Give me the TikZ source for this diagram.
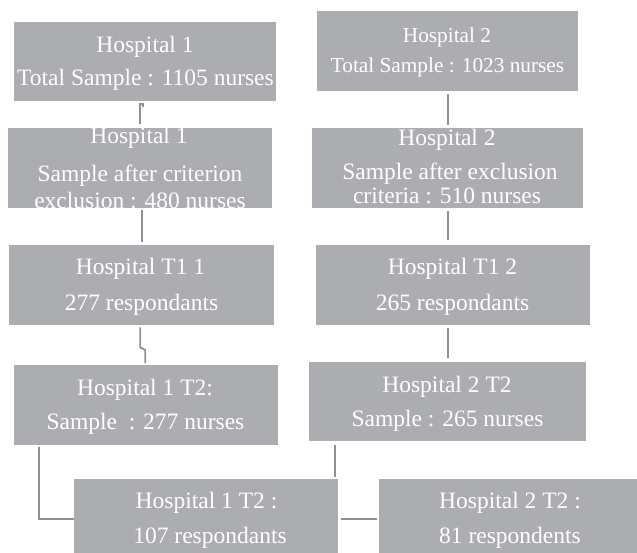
\documentclass[tikz,border=0pt]{standalone}
\usepackage{fontspec}
\setmainfont{Liberation Serif}
\definecolor{boxgray}{HTML}{ACADB1}
\definecolor{linegray}{HTML}{8F9094}
\begin{document}
\begin{tikzpicture}[x=1pt,y=-1pt,
  box/.style={fill=boxgray,draw=none,inner sep=0pt,anchor=north west},
  txt/.style={anchor=base,text=white,inner sep=0pt,font=\fontsize{23.5}{28}\selectfont},
  txts/.style={anchor=base,text=white,inner sep=0pt,font=\fontsize{21.3}{26}\selectfont},
  conn/.style={draw=linegray,line width=1.8pt}]
\useasboundingbox (0,0) rectangle (637,553);
% boxes
\node[box,minimum width=262pt,minimum height=79pt] (A) at (14,22) {};
\node[box,minimum width=261pt,minimum height=80pt] (E) at (317,11) {};
\node[box,minimum width=264pt,minimum height=80pt] (B) at (8,128) {};
\node[box,minimum width=271pt,minimum height=80pt] (F) at (312,128) {};
\node[box,minimum width=265pt,minimum height=80pt] (C) at (9,245) {};
\node[box,minimum width=274pt,minimum height=80pt] (D) at (316,245) {};
\node[box,minimum width=264pt,minimum height=80pt] (G) at (14,365) {};
\node[box,minimum width=277pt,minimum height=79pt] (H) at (309,362) {};
\node[box,minimum width=264pt,minimum height=74pt] (I) at (74,479) {};
\node[box,minimum width=258pt,minimum height=74pt] (J) at (379,479) {};
% texts
\node[txt] (A1) at (145,52.5) {Hospital 1};
\node[txt] (A2) at (145.5,86) {Total Sample : 1105 nurses};
\node[txts] (E1) at (447,42.5) {Hospital 2};
\node[txts] (E2) at (447.5,72.5) {Total Sample : 1023 nurses};
\begin{scope}
\clip (B.north west) rectangle (B.south east);
\node[txt] (B1) at (139,144) {Hospital 1};
\node[txt] (B2) at (140,181.5) {Sample after criterion};
\node[txt] (B3) at (140,209) {exclusion : 480 nurses};
\end{scope}
\begin{scope}
\clip (F.north west) rectangle (F.south east);
\node[txt] (F1) at (447,145.5) {Hospital 2};
\node[txt] (F2) at (450,180) {Sample after exclusion};
\node[txt] (F3) at (447,204) {criteria : 510 nurses};
\end{scope}
\node[txt] (C1) at (140.5,275) {Hospital T1 1};
\node[txt] (C2) at (141.5,310) {277 respondants};
\node[txt] (D1) at (452.5,275) {Hospital T1 2};
\node[txt] (D2) at (452.5,310) {265 respondants};
\node[txt] (G1) at (145,395.5) {Hospital 1 T2:};
\node[txt] (G2) at (145.5,429) {Sample\ \ : 277 nurses};
\node[txt] (H1) at (447,392.5) {Hospital 2 T2};
\node[txt] (H2) at (447.5,426.5) {Sample : 265 nurses};
\node[txt] (I1) at (206.5,508) {Hospital 1 T2 :};
\node[txt] (I2) at (210,543) {107 respondants};
\node[txt] (J1) at (510,508) {Hospital 2 T2 :};
\node[txt] (J2) at (510,543) {81 respondents};
% connectors
\draw[conn] ([xshift=-2.5pt,yshift=-6pt]A.south) -- ([xshift=-2.5pt,yshift=-3pt]A.south)
  -- ([xshift=-5pt,yshift=-3pt]A.south) -- ([yshift=4pt]B.north);
\draw[conn,shorten <=3pt,shorten >=3pt] (E.south) -- (E.south |- F.north);
\draw[conn,shorten <=2pt,shorten >=3pt] ([xshift=2pt]B.south) -- ([xshift=0.5pt]C.north);
\draw[conn,shorten <=3pt,shorten >=5pt] (F.south) -- (F.south |- D.north);
\draw[conn] ([xshift=-1.5pt,yshift=-2pt]C.south) -- ([xshift=-1.5pt,yshift=-22pt]C.south)
  -- ([xshift=-1pt,yshift=15pt]G.north) -- ([xshift=-1pt,yshift=2pt]G.north);
\draw[conn,shorten <=3pt,shorten >=4pt] (D.south -| H.north) -- (H.north);
\coordinate (g1) at ([xshift=25pt,yshift=-2pt]G.south west);
\draw[conn] (g1) |- ([yshift=-3pt]I.west);
\coordinate (h1) at ([xshift=26pt,yshift=-4pt]H.south west);
\draw[conn,shorten >=2pt] (h1) -- (h1 |- I.north);
\draw[conn,shorten <=3pt,shorten >=2pt] ([yshift=-3pt]I.east) -- ([yshift=-3pt]J.west);
\end{tikzpicture}
\end{document}
